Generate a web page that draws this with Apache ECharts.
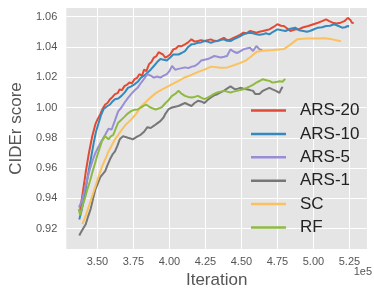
<!DOCTYPE html>
<html>
<head>
<meta charset="utf-8">
<script src="https://cdn.jsdelivr.net/npm/echarts@6/dist/echarts.min.js"></script>
<style>html,body{margin:0;padding:0;background:#fff}#c{width:374px;height:294px}</style>
</head>
<body>
<div id="c"></div>
<script>
const xTicks = [3.50, 3.75, 4.00, 4.25, 4.50, 4.75, 5.00, 5.25];
const yTicks = [0.92, 0.94, 0.96, 0.98, 1.00, 1.02, 1.04, 1.06];
const seriesNames = ['ARS-20', 'ARS-10', 'ARS-5', 'ARS-1', 'SC', 'RF'];

const ars20 = [[3.378,0.931],[3.40,0.945],[3.42,0.958],[3.441,0.970],[3.464,0.981],[3.486,0.989],[3.50,0.992],[3.52,0.9956],[3.535,0.999],[3.554,1.002],[3.57,1.003],[3.588,1.0055],[3.605,1.007],[3.622,1.0088],[3.64,1.0095],[3.655,1.012],[3.67,1.0115],[3.689,1.0143],[3.705,1.015],[3.723,1.0165],[3.74,1.016],[3.757,1.0187],[3.775,1.0195],[3.791,1.022],[3.81,1.021],[3.824,1.025],[3.84,1.024],[3.858,1.0285],[3.875,1.030],[3.892,1.033],[3.91,1.034],[3.925,1.0365],[3.937,1.0373],[3.955,1.035],[3.971,1.033],[3.99,1.034],[4.005,1.035],[4.027,1.0384],[4.045,1.039],[4.063,1.0406],[4.085,1.0405],[4.108,1.0417],[4.13,1.043],[4.153,1.045],[4.175,1.0435],[4.198,1.0439],[4.22,1.0445],[4.243,1.0439],[4.265,1.0445],[4.288,1.045],[4.31,1.044],[4.333,1.0439],[4.355,1.045],[4.378,1.046],[4.40,1.0445],[4.424,1.045],[4.445,1.046],[4.468,1.047],[4.49,1.048],[4.514,1.0494],[4.535,1.049],[4.559,1.0505],[4.58,1.050],[4.604,1.0494],[4.625,1.050],[4.649,1.0505],[4.67,1.051],[4.694,1.0516],[4.72,1.053],[4.75,1.055],[4.775,1.054],[4.795,1.0538],[4.82,1.052],[4.84,1.0505],[4.87,1.0515],[4.896,1.0516],[4.93,1.053],[4.964,1.0538],[5.00,1.055],[5.032,1.056],[5.06,1.057],[5.088,1.0582],[5.11,1.057],[5.133,1.056],[5.16,1.0555],[5.189,1.056],[5.215,1.057],[5.239,1.0592],[5.255,1.058],[5.268,1.056],[5.28,1.0557]];

const ars10 = [[3.374,0.926],[3.39,0.932],[3.407,0.9395],[3.425,0.950],[3.441,0.959],[3.458,0.968],[3.475,0.977],[3.49,0.984],[3.509,0.990],[3.525,0.995],[3.543,0.999],[3.554,1.000],[3.57,1.001],[3.588,1.002],[3.605,1.004],[3.622,1.0055],[3.645,1.006],[3.667,1.0077],[3.69,1.010],[3.712,1.013],[3.735,1.014],[3.757,1.0153],[3.78,1.017],[3.802,1.0197],[3.825,1.021],[3.847,1.023],[3.87,1.025],[3.892,1.0274],[3.915,1.030],[3.937,1.032],[3.96,1.0315],[3.982,1.031],[4.005,1.033],[4.027,1.035],[4.045,1.035],[4.063,1.035],[4.085,1.036],[4.108,1.0373],[4.13,1.040],[4.153,1.0417],[4.175,1.042],[4.198,1.0428],[4.22,1.043],[4.243,1.0439],[4.265,1.0435],[4.288,1.0428],[4.31,1.0435],[4.333,1.0439],[4.355,1.0445],[4.378,1.045],[4.40,1.044],[4.424,1.0439],[4.445,1.045],[4.468,1.046],[4.49,1.047],[4.514,1.0483],[4.535,1.049],[4.559,1.0494],[4.58,1.049],[4.604,1.0483],[4.625,1.048],[4.649,1.0483],[4.67,1.049],[4.694,1.0483],[4.72,1.050],[4.75,1.0516],[4.78,1.051],[4.806,1.0505],[4.84,1.052],[4.874,1.0527],[4.90,1.051],[4.93,1.0505],[4.955,1.050],[4.975,1.0505],[5.00,1.0515],[5.032,1.0527],[5.06,1.053],[5.088,1.0538],[5.115,1.054],[5.144,1.055],[5.17,1.054],[5.20,1.0527],[5.22,1.053],[5.239,1.0538],[5.248,1.0535]];

const ars5 = [[3.372,0.934],[3.39,0.938],[3.41,0.945],[3.43,0.953],[3.45,0.960],[3.47,0.966],[3.486,0.970],[3.509,0.9745],[3.53,0.978],[3.554,0.982],[3.577,0.986],[3.599,0.9855],[3.62,0.991],[3.644,0.9975],[3.667,1.000],[3.689,1.0033],[3.71,1.006],[3.734,1.0088],[3.755,1.011],[3.779,1.013],[3.80,1.016],[3.825,1.019],[3.847,1.022],[3.87,1.021],[3.892,1.0197],[3.915,1.0205],[3.937,1.0197],[3.96,1.021],[3.982,1.022],[4.00,1.024],[4.018,1.0274],[4.04,1.025],[4.063,1.0255],[4.086,1.026],[4.11,1.0265],[4.131,1.026],[4.155,1.027],[4.176,1.0274],[4.20,1.029],[4.221,1.031],[4.243,1.0315],[4.266,1.032],[4.29,1.033],[4.311,1.034],[4.335,1.0335],[4.356,1.033],[4.38,1.0335],[4.40,1.034],[4.424,1.0384],[4.445,1.037],[4.468,1.036],[4.49,1.037],[4.514,1.0384],[4.535,1.039],[4.559,1.0395],[4.581,1.0373],[4.604,1.0406],[4.626,1.0384],[4.645,1.038]];

const ars1 = [[3.374,0.9155],[3.385,0.9175],[3.40,0.920],[3.419,0.923],[3.435,0.928],[3.453,0.933],[3.47,0.940],[3.486,0.946],[3.503,0.950],[3.520,0.954],[3.537,0.956],[3.554,0.958],[3.57,0.962],[3.588,0.966],[3.605,0.969],[3.622,0.971],[3.64,0.975],[3.655,0.979],[3.678,0.981],[3.695,0.9805],[3.712,0.980],[3.73,0.9795],[3.745,0.979],[3.762,0.980],[3.779,0.981],[3.80,0.982],[3.824,0.984],[3.847,0.987],[3.87,0.9865],[3.893,0.988],[3.915,0.9895],[3.937,0.991],[3.959,0.9934],[3.973,0.996],[3.995,0.999],[4.018,1.000],[4.04,1.0005],[4.063,1.001],[4.085,1.002],[4.108,1.003],[4.13,1.002],[4.153,1.001],[4.175,1.003],[4.198,1.0044],[4.22,1.004],[4.243,1.003],[4.265,1.005],[4.288,1.0066],[4.31,1.008],[4.333,1.0088],[4.355,1.010],[4.378,1.011],[4.40,1.0125],[4.424,1.014],[4.44,1.013],[4.457,1.012],[4.475,1.0125],[4.491,1.013],[4.51,1.0125],[4.536,1.012],[4.56,1.0115],[4.581,1.011],[4.595,1.009],[4.604,1.0077],[4.625,1.009],[4.649,1.011],[4.67,1.012],[4.694,1.013],[4.716,1.012],[4.74,1.011],[4.764,1.0097],[4.775,1.012],[4.786,1.0136]];

const sc = [[3.396,0.923],[3.42,0.929],[3.441,0.935],[3.465,0.942],[3.486,0.948],[3.51,0.955],[3.532,0.961],[3.555,0.966],[3.577,0.971],[3.60,0.975],[3.622,0.979],[3.645,0.982],[3.667,0.985],[3.70,0.989],[3.734,0.992],[3.77,0.996],[3.802,1.0005],[3.85,1.005],[3.905,1.0095],[3.95,1.012],[4.00,1.0145],[4.063,1.0176],[4.11,1.020],[4.153,1.0215],[4.20,1.0235],[4.243,1.025],[4.29,1.027],[4.356,1.0263],[4.403,1.0265],[4.45,1.028],[4.493,1.0295],[4.53,1.031],[4.559,1.033],[4.606,1.0368],[4.65,1.0375],[4.72,1.038],[4.797,1.0387],[4.84,1.0415],[4.887,1.045],[4.95,1.0455],[5.00,1.0456],[5.079,1.0458],[5.13,1.045],[5.191,1.0437]];

const rf = [[3.370,0.933],[3.38,0.929],[3.396,0.935],[3.413,0.940],[3.430,0.946],[3.447,0.951],[3.464,0.957],[3.48,0.962],[3.498,0.968],[3.515,0.973],[3.532,0.978],[3.554,0.981],[3.567,0.980],[3.577,0.979],[3.593,0.981],[3.610,0.982],[3.627,0.986],[3.644,0.990],[3.667,0.992],[3.689,0.994],[3.71,0.996],[3.734,0.9976],[3.755,0.9985],[3.779,0.9987],[3.80,1.000],[3.82,1.001],[3.838,1.002],[3.86,1.0005],[3.882,0.9995],[3.905,0.9987],[3.93,0.9995],[3.95,1.0005],[3.973,1.003],[3.995,1.005],[4.018,1.0077],[4.04,1.009],[4.063,1.011],[4.086,1.009],[4.108,1.0077],[4.13,1.007],[4.153,1.0066],[4.175,1.007],[4.198,1.0077],[4.22,1.0065],[4.243,1.0055],[4.265,1.0065],[4.288,1.0077],[4.31,1.009],[4.333,1.0099],[4.355,1.0105],[4.378,1.011],[4.40,1.0105],[4.424,1.0099],[4.445,1.0105],[4.468,1.011],[4.49,1.0115],[4.514,1.012],[4.536,1.013],[4.559,1.014],[4.58,1.015],[4.604,1.0165],[4.625,1.0175],[4.649,1.0187],[4.673,1.018],[4.694,1.0176],[4.716,1.0165],[4.73,1.0167],[4.75,1.017],[4.764,1.0173],[4.785,1.017],[4.804,1.0189]];

const seriesData = [ars20, ars10, ars5, ars1, sc, rf];
const colors = ['#E24A33', '#348ABD', '#988ED5', '#777777', '#FBC15E', '#8EBA42'];
const FONT = 'Liberation Sans, Arial, sans-serif';

const chart = echarts.init(document.getElementById('c'), null, {renderer: 'canvas'});
chart.setOption({
  animation: false,
  backgroundColor: '#ffffff',
  color: colors,
  grid: {left: 58, right: 7, top: 8, bottom: 45, show: true, backgroundColor: '#E5E5E5', borderWidth: 0},
  xAxis: {
    type: 'value', min: 3.284, max: 5.372,
    name: 'Iteration', nameLocation: 'middle', nameGap: 20,
    nameTextStyle: {fontSize: 17, color: '#555555', fontFamily: FONT},
    axisLine: {show: false}, 
    axisTick: {show: false, customValues: xTicks},
    axisLabel: {customValues: xTicks, formatter: v => v.toFixed(2), fontSize: 11, color: '#555555', fontFamily: FONT, margin: 7},
    splitLine: {show: true, lineStyle: {color: '#ffffff', width: 1}}
  },
  yAxis: {
    type: 'value', min: 0.9066, max: 1.0657,
    name: 'CIDEr score', nameLocation: 'middle', nameGap: 34,
    nameTextStyle: {fontSize: 17, color: '#555555', fontFamily: FONT},
    axisLine: {show: false},
    axisTick: {show: false, customValues: yTicks},
    axisLabel: {customValues: yTicks, formatter: v => v.toFixed(2), fontSize: 11, color: '#555555', fontFamily: FONT, margin: 9},
    splitLine: {show: true, lineStyle: {color: '#ffffff', width: 1}}
  },
  legend: {
    orient: 'vertical', left: 246, top: 97,
    icon: 'rect', itemWidth: 35, itemHeight: 2.5, itemGap: 6.4,
    data: seriesNames,
    textStyle: {fontSize: 17, color: '#222222', fontFamily: FONT, padding: [0, 0, 0, 9], lineHeight: 17}
  },
  graphic: [{type: 'text', right: 2, top: 266, style: {text: '1e5', fontSize: 11, fill: '#555555', fontFamily: FONT}}],
  series: seriesNames.map((n, i) => ({
    name: n, type: 'line', data: seriesData[i], showSymbol: false, symbol: 'none',
    lineStyle: {width: 2, color: colors[i]}, itemStyle: {color: colors[i]}
  }))
});
</script>
</body>
</html>
